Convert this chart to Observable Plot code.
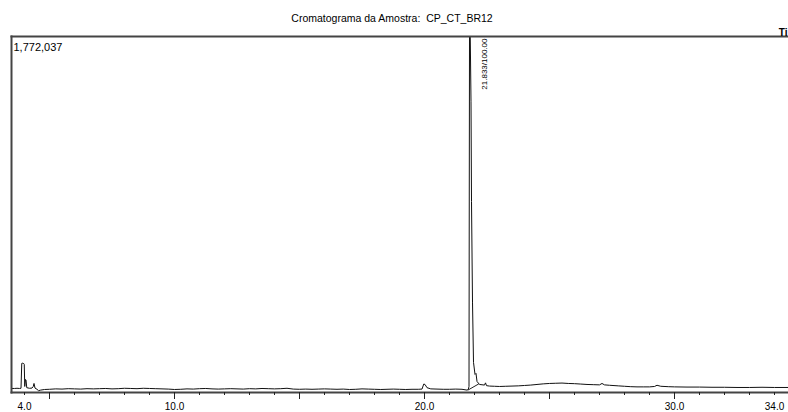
<!DOCTYPE html>
<html><head><meta charset="utf-8">
<script src="https://cdn.jsdelivr.net/npm/d3@7"></script>
<script src="https://cdn.jsdelivr.net/npm/@observablehq/plot@0.6"></script>
<style>body{margin:0;background:#fff;} svg{display:block;}</style>
</head><body><div id="chart"></div>
<script>
const title = "Cromatograma da Amostra:  CP_CT_BR12";
const maxLabel = "1,772,037";
const maxIntensity = 1772037;
const peakRT = 21.833;
const peakLabel = "21.833/100.00";
const cornerLabel = "Ti";

const rt = [
  3.48,3.60,3.70,3.80,3.86,3.89,3.91,3.97,3.99,4.01,
  4.04,4.06,4.09,4.20,4.30,4.35,4.38,4.42,4.50,4.56,
  4.65,4.80,5.00,5.25,5.50,5.75,6.00,6.25,6.50,6.75,
  7.00,7.25,7.50,7.75,8.00,8.25,8.50,8.75,9.00,9.25,
  9.50,9.75,10.00,10.25,10.50,10.75,11.00,11.25,11.50,11.75,
  12.00,12.25,12.50,12.75,13.00,13.25,13.50,13.75,14.00,14.25,
  14.50,14.75,15.00,15.25,15.50,15.75,16.00,16.25,16.50,16.75,
  17.00,17.25,17.50,17.75,18.00,18.25,18.50,18.75,19.00,19.25,
  19.50,19.75,19.90,19.97,20.02,20.10,20.25,20.50,20.75,21.00,
  21.25,21.50,21.70,21.75,21.78,21.80,21.83,21.86,21.88,21.92,
  21.96,22.02,22.06,22.10,22.20,22.40,22.44,22.48,22.60,22.80,
  23.00,23.25,23.50,23.75,24.00,24.25,24.50,24.75,25.00,25.25,
  25.50,25.75,26.00,26.25,26.50,26.75,27.00,27.10,27.20,27.40,
  27.75,28.00,28.25,28.50,28.75,29.00,29.20,29.30,29.45,29.75,
  30.00,30.50,31.00,31.50,32.00,32.50,33.00,33.50,34.00,34.56
];
const intensity = [
  20000,20000,21000,20000,21000,145000,146000,144000,140000,30000,
  65000,62000,24000,21000,22000,30000,45000,22000,16000,9000,
  12000,15000,16000,18000,17000,19000,18000,17000,19000,18000,
  19000,20000,18000,19000,21000,20000,19000,21000,20000,19000,
  18000,17000,15000,16000,18000,17000,19000,20000,18000,17000,
  18000,19000,18000,17000,19000,18000,20000,19000,18000,19000,
  21000,17000,16000,17000,16000,17000,18000,17000,16000,17000,
  15000,16000,18000,17000,16000,15000,16000,17000,16000,15000,
  16000,16000,17000,42000,40000,24000,18000,17000,16000,16000,
  17000,16000,12000,15000,30000,1772037,1772037,1450000,950000,450000,
  150000,90000,95000,55000,40000,37000,48000,34000,32000,31000,
  30000,31000,32000,33000,35000,37000,40000,43000,45000,46000,
  47000,45000,44000,42000,40000,39000,38000,45000,38000,36000,
  33000,31000,29000,28000,28000,28000,30000,36000,31000,29000,
  28000,27000,27000,26000,26000,25000,25000,26000,25000,25000
];
const baseRT = [21.75, 22.16];
const baseIntensity = [13000, 42000];

const minorTicks = [4,5,6,7,8,9,10,11,12,13,14,15,16,17,18,19,20,21,22,23,24,25,26,27,28,29,30,31,32,33,34];
const majorTicks = [5,10,15,20,25,30];
const labelTicks = [4,10,20,30,34];

const signal = rt.map((t, i) => ({t, v: intensity[i]}));
const baseline = baseRT.map((t, i) => ({t, v: baseIntensity[i]}));

const chart = Plot.plot({
  width: 788, height: 412,
  marginTop: 36, marginBottom: 20, marginLeft: 11, marginRight: 0,
  style: {fontFamily: "'Liberation Sans', Arial, sans-serif", fontSize: "10px", background: "#fff", color: "#000"},
  x: {domain: [3.48, 34.56], label: null},
  y: {domain: [0, maxIntensity], axis: null},
  marks: [
    Plot.line(signal, {x: "t", y: "v", stroke: "#111", strokeWidth: 1}),
    Plot.line(baseline, {x: "t", y: "v", stroke: "#222", strokeWidth: 1}),
    Plot.frame({anchor: "top", stroke: "#444", strokeWidth: 2}),
    Plot.frame({anchor: "left", stroke: "#444", strokeWidth: 2}),
    Plot.frame({anchor: "bottom", stroke: "#444", strokeWidth: 2}),
    Plot.axisX(minorTicks, {tickSize: 3, tickFormat: () => "", stroke: "#222", label: null}),
    Plot.axisX(majorTicks, {tickSize: 7, tickFormat: () => "", stroke: "#222", label: null}),
    Plot.axisX(labelTicks, {tickSize: 0, tickPadding: 10, tickFormat: d => d.toFixed(1), fontSize: 10, label: null}),
    Plot.text([title], {frameAnchor: "top", dx: -8, dy: -22, fontSize: 10.5}),
    Plot.text([maxLabel], {frameAnchor: "top-left", textAnchor: "start", dx: 2, dy: 7, fontSize: 11}),
    Plot.text([cornerLabel], {frameAnchor: "top-right", textAnchor: "end", dx: -1, dy: -8, fontSize: 10, fontWeight: "bold"}),
    Plot.text([peakLabel], {x: [peakRT], frameAnchor: "top", rotate: -90, textAnchor: "end", dx: 11, dy: 2, fontSize: 8})
  ]
});
document.getElementById("chart").appendChild(chart);
</script>
</body></html>
